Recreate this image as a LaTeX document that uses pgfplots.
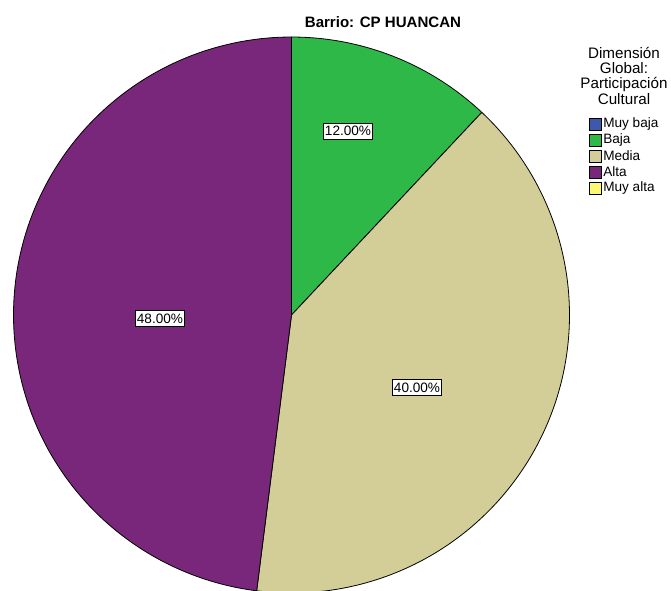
\documentclass[border=0pt]{standalone}
\usepackage{pgfplots}
\pgfplotsset{compat=1.18}
\usepackage{pgfplotstable}
\usepackage{fontspec}
\setmainfont{Liberation Sans}
\definecolor{cMuyBaja}{RGB}{62,88,172}
\definecolor{cBaja}{RGB}{46,184,72}
\definecolor{cMedia}{RGB}{211,206,151}
\definecolor{cAlta}{RGB}{121,39,122}
\definecolor{cMuyAlta}{RGB}{251,248,115}
\pgfplotstableread{
cat value
Baja 12
Media 40
Alta 48
}\piedata
\begin{document}
\begin{tikzpicture}[x=1pt,y=1pt]
\useasboundingbox (0,0) rectangle (503.25,-442.5);
\clip (0,0) rectangle (503.25,-442.5);
\pgfplotstablegetelem{0}{value}\of\piedata \let\vBaja\pgfplotsretval
\pgfplotstablegetelem{1}{value}\of\piedata \let\vMedia\pgfplotsretval
\pgfplotstablegetelem{2}{value}\of\piedata \let\vAlta\pgfplotsretval
\pgfmathsetmacro\aA{90}
\pgfmathsetmacro\aB{\aA-3.6*\vBaja}
\pgfmathsetmacro\aC{\aB-3.6*\vMedia}
\pgfmathsetmacro\aD{\aC-3.6*\vAlta}
\begin{axis}[
  at={(10.125pt,-444.75pt)}, anchor=south west,
  scale only axis, width=417pt, height=417pt,
  xmin=-1, xmax=1, ymin=-1, ymax=1,
  hide axis, clip=false,
]
\addplot[fill=cBaja, draw=black, line width=0.6pt, domain=\aA:\aB, samples=80, variable=\t, line join=round]
  ({cos(\t)},{sin(\t)}) -- (axis cs:0,0) -- cycle;
\addplot[fill=cMedia, draw=black, line width=0.6pt, domain=\aB:\aC, samples=160, variable=\t, line join=round]
  ({cos(\t)},{sin(\t)}) -- (axis cs:0,0) -- cycle;
\addplot[fill=cAlta, draw=black, line width=0.6pt, domain=\aC:\aD, samples=180, variable=\t, line join=round]
  ({cos(\t)},{sin(\t)}) -- (axis cs:0,0) -- cycle;
\end{axis}
% slice labels
\tikzset{plab/.style={draw=black, fill=white, line width=0.7pt, inner xsep=1.4pt, inner ysep=2.4pt, font=\fontsize{10.2}{12}\selectfont}}
\node[plab] at (261,-98.25) {12.00\%};
\node[plab] at (312.75,-290.5) {40.00\%};
\node[plab] at (120,-239) {48.00\%};
% title
\node[font=\bfseries\fontsize{11.3}{13}\selectfont] at (287.25,-16.5) {Barrio: CP HUANCAN};
% legend title
\begin{scope}[every node/.style={font=\fontsize{11.4}{13}\selectfont, anchor=base, inner sep=0pt}]
\node at (468,-43.5) {Dimensión};
\node at (468,-55.1) {Global:};
\node at (468,-66.7) {Participación};
\node at (468,-78.3) {Cultural};
\end{scope}
% legend entries
\foreach \c/\l [count=\i from 0] in {cMuyBaja/Muy baja, cBaja/Baja, cMedia/Media, cAlta/Alta, cMuyAlta/Muy alta}{
  \pgfmathsetmacro\yy{-(124+16*\i)*0.75}
  \filldraw[fill=\c, draw=black, line width=0.6pt] (441.75,\yy-4.5) rectangle (450.75,\yy+4.5);
  \node[anchor=west, inner sep=0pt, font=\fontsize{10.2}{12}\selectfont] at (452.25,\yy) {\l};
}
\end{tikzpicture}
\end{document}
